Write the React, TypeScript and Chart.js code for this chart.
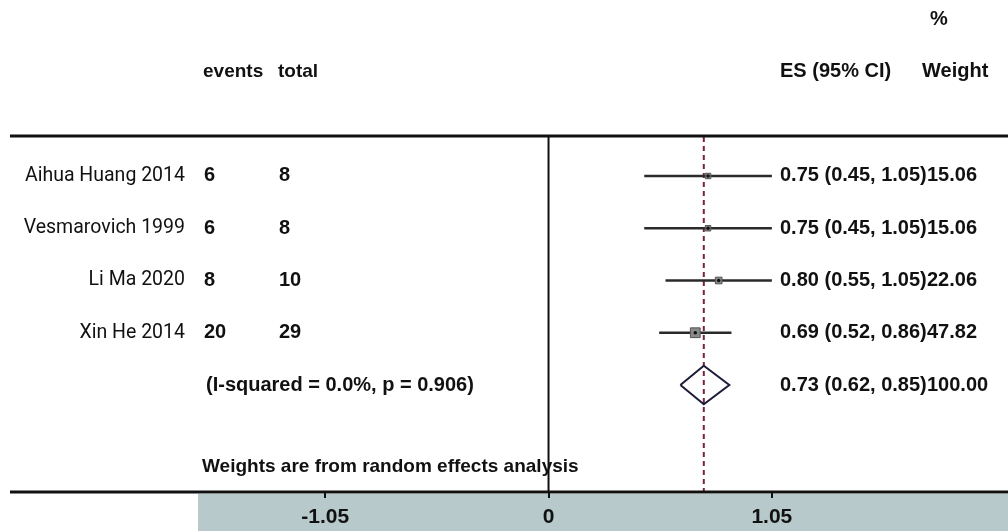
import React, { useEffect, useRef } from "react";
import { Chart, registerables } from "chart.js";

Chart.register(...registerables);

// ---- data ----
const studies = ["Aihua Huang 2014", "Vesmarovich 1999", "Li Ma 2020", "Xin He 2014"];
const events = [6, 6, 8, 20];
const totals = [8, 8, 10, 29];
const effect = [0.75, 0.75, 0.8, 0.69];
const ciLow = [0.45, 0.45, 0.55, 0.52];
const ciHigh = [1.05, 1.05, 1.05, 0.86];
const weights = [15.06, 15.06, 22.06, 47.82];
const pooledEffect = 0.73;
const pooledLow = 0.62;
const pooledHigh = 0.85;
const pooledWeight = 100.0;
const heterogeneity = "(I-squared = 0.0%, p = 0.906)";
const footnote = "Weights are from random effects analysis";
const xTicks = [-1.05, 0, 1.05];
const headerCols = ["events", "total", "ES (95% CI)", "Weight", "%"];

// ---- layout / style constants ----
const W = 1008;
const H = 531;
const X_MIN = -1.648;
const X_MAX = 2.123;
const Y_MIN = -0.746;
const Y_MAX = 6.048;
const POOLED_ROW = studies.length;
const FOOT_ROW = 5.57;
const BOLD = "'Liberation Sans', Arial, sans-serif";

const fmt = (v: number) => v.toFixed(2);

const textPlugin = {
  id: "forestText",
  beforeDraw(chart: any) {
    const { ctx, chartArea } = chart;
    ctx.save();
    ctx.fillStyle = "#fff";
    ctx.fillRect(0, 0, W, H);
    // axis band
    ctx.fillStyle = "#b8c9cb";
    ctx.fillRect(chartArea.left, chartArea.bottom + 2, W - chartArea.left, H - chartArea.bottom - 2);
    ctx.restore();
  },
  afterDatasetsDraw(chart: any) {
    const { ctx, chartArea, scales } = chart;
    const y = (v: number) => scales.y.getPixelForValue(v);
    ctx.save();
    // frame lines
    ctx.strokeStyle = "#111";
    ctx.lineWidth = 3;
    ctx.beginPath();
    ctx.moveTo(10, chartArea.top - 1);
    ctx.lineTo(W, chartArea.top - 1);
    ctx.moveTo(10, chartArea.bottom);
    ctx.lineTo(W, chartArea.bottom);
    ctx.stroke();

    ctx.fillStyle = "#111";
    ctx.textBaseline = "middle";
    // headers
    ctx.textAlign = "left";
    ctx.font = `bold 19px ${BOLD}`;
    ctx.fillText(headerCols[0], 203, y(-2));
    ctx.fillText(headerCols[1], 278, y(-2));
    ctx.font = `bold 20px ${BOLD}`;
    ctx.fillText(headerCols[2], 780, y(-2));
    ctx.fillText(headerCols[3], 922, y(-2));
    ctx.fillText(headerCols[4], 930, y(-3));

    studies.forEach((s, i) => {
      const yy = y(i);
      ctx.textAlign = "right";
      ctx.font = `19.5px Roboto, 'Noto Sans', sans-serif`;
      ctx.fillText(s, 185, yy);
      ctx.textAlign = "left";
      ctx.font = `bold 20px ${BOLD}`;
      ctx.fillText(String(events[i]), 204, yy);
      ctx.fillText(String(totals[i]), 279, yy);
      ctx.fillText(`${fmt(effect[i])} (${fmt(ciLow[i])}, ${fmt(ciHigh[i])})`, 780, yy);
      ctx.fillText(fmt(weights[i]), 927, yy);
    });
    const py = y(POOLED_ROW);
    ctx.font = `bold 20px ${BOLD}`;
    ctx.fillText(heterogeneity, 206, py);
    ctx.fillText(`${fmt(pooledEffect)} (${fmt(pooledLow)}, ${fmt(pooledHigh)})`, 780, py);
    ctx.fillText(fmt(pooledWeight), 927, py);
    ctx.font = `bold 19px ${BOLD}`;
    ctx.fillText(footnote, 202, y(FOOT_ROW));
    ctx.restore();
  },
};

export default function App() {
  const ref = useRef<HTMLCanvasElement | null>(null);
  useEffect(() => {
    if (!ref.current) return;
    const ciSets = studies.map((s, i) => ({
      type: "line" as const,
      label: s,
      data: [
        { x: ciLow[i], y: i },
        { x: ciHigh[i], y: i },
      ],
      borderColor: "#2a2a2a",
      borderWidth: 2.5,
      pointRadius: 0,
      order: 5,
    }));
    const chart = new Chart(ref.current, {
      type: "scatter",
      data: {
        datasets: [
          {
            type: "line",
            label: "null",
            data: [
              { x: 0, y: Y_MIN },
              { x: 0, y: Y_MAX },
            ],
            borderColor: "#111",
            borderWidth: 2,
            pointRadius: 0,
            order: 10,
          },
          {
            type: "line",
            label: "pooled line",
            data: [
              { x: pooledEffect, y: Y_MIN },
              { x: pooledEffect, y: Y_MAX },
            ],
            borderColor: "#7a2040",
            borderWidth: 2,
            borderDash: [5, 4],
            pointRadius: 0,
            order: 9,
          },
          ...ciSets,
          {
            type: "scatter",
            label: "weights",
            data: effect.map((e, i) => ({ x: e, y: i })),
            pointStyle: "rect",
            pointRadius: weights.map((w) => 1.0 * Math.sqrt(w)),
            backgroundColor: "#8a8a8a",
            borderColor: "#555",
            borderWidth: 1,
            order: 3,
          },
          {
            type: "scatter",
            label: "estimates",
            data: effect.map((e, i) => ({ x: e, y: i })),
            pointStyle: "circle",
            pointRadius: 1.8,
            backgroundColor: "#111",
            borderWidth: 0,
            order: 2,
          },
          {
            type: "line",
            label: "pooled",
            data: [
              { x: pooledLow, y: POOLED_ROW },
              { x: pooledEffect, y: POOLED_ROW - 0.37 },
              { x: pooledHigh, y: POOLED_ROW },
              { x: pooledEffect, y: POOLED_ROW + 0.37 },
              { x: pooledLow, y: POOLED_ROW },
            ],
            borderColor: "#1c1c3a",
            borderWidth: 2,
            pointRadius: 0,
            fill: false,
            tension: 0,
            order: 1,
          },
        ] as any,
      },
      options: {
        animation: false,
        responsive: false,
        maintainAspectRatio: false,
        layout: { padding: { left: 198, right: 0, top: 137, bottom: 0 } },
        plugins: { legend: { display: false }, tooltip: { enabled: false } },
        scales: {
          x: {
            type: "linear",
            min: X_MIN,
            max: X_MAX,
            afterBuildTicks: (scale: any) => {
              scale.ticks = xTicks.map((v) => ({ value: v }));
            },
            afterFit: (scale: any) => {
              scale.height = H - 492;
              scale.paddingLeft = 0;
              scale.paddingRight = 0;
            },
            ticks: {
              autoSkip: false,
              maxRotation: 0,
              padding: 7,
              color: "#111",
              font: { family: BOLD, size: 21, weight: "bold" },
              callback: (v: any) => (Number(v) === 0 ? "0" : Number(v).toFixed(2)),
            },
            grid: {
              drawOnChartArea: false,
              drawTicks: true,
              tickLength: 6,
              color: "#111",
              lineWidth: 2,
            },
            border: { display: false },
          },
          y: {
            type: "linear",
            display: false,
            reverse: true,
            min: Y_MIN,
            max: Y_MAX,
          },
        },
      } as any,
      plugins: [textPlugin],
    });
    return () => chart.destroy();
  }, []);
  return (
    <div style={{ position: "fixed", left: 0, top: 0, width: W, height: H, background: "#fff" }}>
      <canvas ref={ref} width={W} height={H} style={{ display: "block", width: W, height: H }} />
    </div>
  );
}
